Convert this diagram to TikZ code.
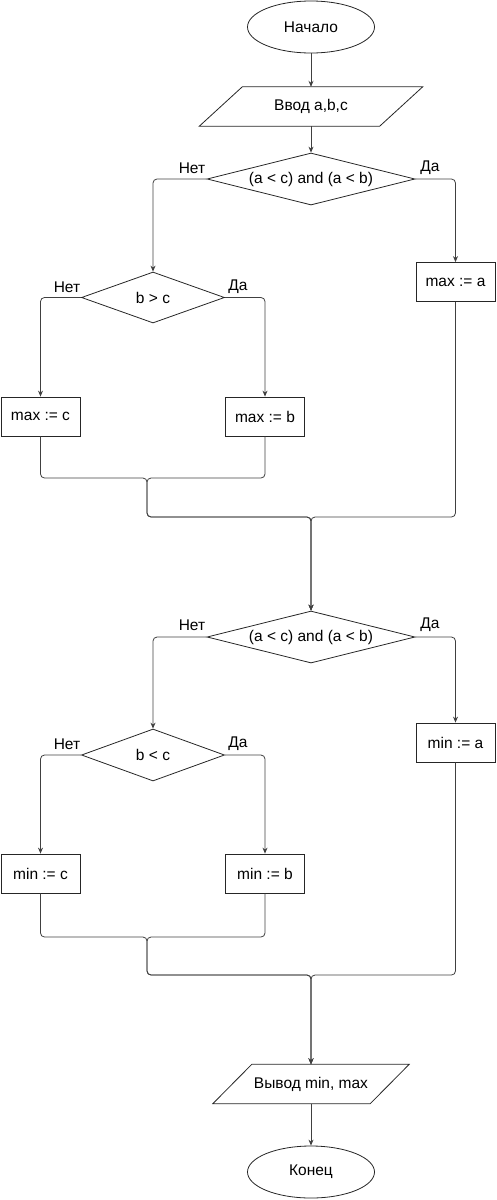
\documentclass[tikz,border=0pt]{standalone}
\usepackage{fontspec}
\setmainfont{Liberation Sans}
\usetikzlibrary{shapes.geometric,arrows.meta}
\begin{document}
\begin{tikzpicture}[x=1pt,y=-1pt,
 every node/.style={font=\fontsize{15.5}{18}\selectfont, text=black},
 term/.style={ellipse, draw=black!85, line width=0.8pt, minimum width=127pt, minimum height=52pt, inner sep=0pt},
 proc/.style={rectangle, draw=black!85, line width=0.8pt, minimum width=79pt, minimum height=39pt, inner sep=0pt},
 dec/.style={diamond, draw=black!85, line width=0.8pt, aspect=4, inner sep=0pt},
 io/.style={rectangle, minimum height=39pt, inner sep=0pt},
 para/.style={draw=black!85, line width=0.8pt},
 edge/.style={draw=black!75, line width=0.8pt, rounded corners=4pt, -{Stealth[length=6pt,width=5pt]}},
 lbl/.style={inner sep=0pt}]
\useasboundingbox (0,0) rectangle (496,1200);

% ---------- top part ----------
\node[term] (start) at (311,27) {Начало};
\node[io, minimum width=180pt] (in) at (311,106.5) {Ввод a,b,c};
\draw[para] ([xshift=21.5pt]in.north west) -- ([xshift=21.5pt]in.north east) -- ([xshift=-21.5pt]in.south east) -- ([xshift=-21.5pt]in.south west) -- cycle;

\node[dec, minimum width=208pt, minimum height=52pt] (d1) at (311,179) {(a < c) and (a < b)};
\node[proc] (ma) at (455.5,282) {max := a};
\node[dec, minimum width=143pt, minimum height=51pt] (d2) at (153,297.5) {b > c};
\node[proc] (mc) at (40.5,416.5) {max := c};
\node[proc] (mb) at (265,416.5) {max := b};

\node[lbl] at (192,168) {Нет};
\node[lbl] at (430,168) {Да};
\node[lbl] at (67,287) {Нет};
\node[lbl] at (238,287) {Да};

\coordinate (j1) at (147,478);
\coordinate (j2) at (311,517);

% ---------- bottom part ----------
\node[dec, minimum width=208pt, minimum height=52pt] (d3) at (311,637) {(a < c) and (a < b)};
\node[proc] (na) at (455.5,742.5) {min := a};
\node[dec, minimum width=143pt, minimum height=52pt] (d4) at (153,755) {b < c};
\node[proc] (nc) at (40.5,873.5) {min := c};
\node[proc] (nb) at (265,873.5) {min := b};

\node[lbl] at (192,625) {Нет};
\node[lbl] at (430,625) {Да};
\node[lbl] at (67,744) {Нет};
\node[lbl] at (238,744) {Да};

\coordinate (j3) at (147,937);
\coordinate (j4) at (311,975);

\node[io, minimum width=157pt] (out) at (311,1084) {Вывод min, max};
\draw[para] ([xshift=19.5pt]out.north west) -- ([xshift=19.5pt]out.north east) -- ([xshift=-19.5pt]out.south east) -- ([xshift=-19.5pt]out.south west) -- cycle;
\node[term] (end) at (311,1172) {Конец};

% ---------- connectors ----------
\draw[edge] (start.south) -- (in.north);
\draw[edge] (in.south) -- (d1.north);
\draw[edge] (d1.west) -| (d2.north);
\draw[edge] (d1.east) -| (ma.north);
\draw[edge] (d2.west) -| (mc.north);
\draw[edge] (d2.east) -| (mb.north);
\draw[edge] (mc.south) |- (j1) |- (j2) -- (d3.north);
\draw[edge] (mb.south) |- (j1) |- (j2) -- (d3.north);
\draw[edge] (ma.south) |- (j2) -- (d3.north);

\draw[edge] (d3.west) -| (d4.north);
\draw[edge] (d3.east) -| (na.north);
\draw[edge] (d4.west) -| (nc.north);
\draw[edge] (d4.east) -| (nb.north);
\draw[edge] (nc.south) |- (j3) |- (j4) -- (out.north);
\draw[edge] (nb.south) |- (j3) |- (j4) -- (out.north);
\draw[edge] (na.south) |- (j4) -- (out.north);
\draw[edge] (out.south) -- (end.north);
\end{tikzpicture}
\end{document}
